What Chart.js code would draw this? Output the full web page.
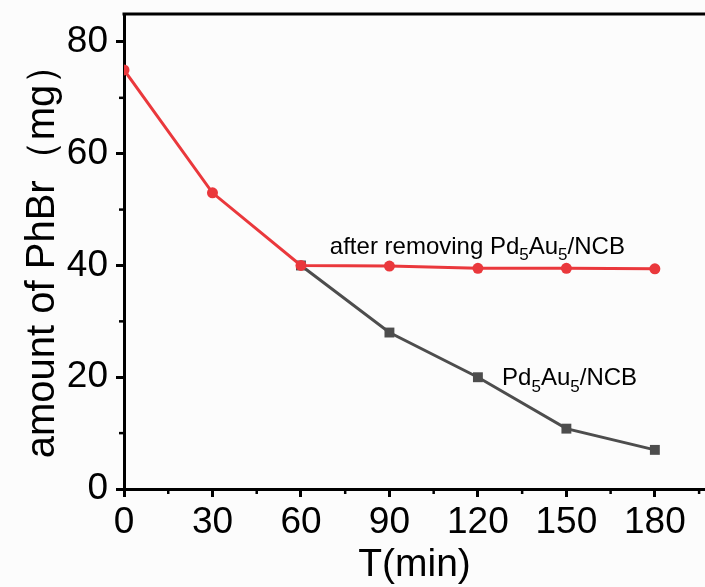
<!DOCTYPE html>
<html>
<head>
<meta charset="utf-8">
<script src="https://cdn.jsdelivr.net/npm/chart.js@4/dist/chart.umd.min.js"></script>
<style>
  html, body { margin: 0; padding: 0; background: #fcfcfc; }
  #wrap { width: 705px; height: 587px; }
</style>
</head>
<body>
<div id="wrap"><canvas id="c" width="705" height="587"></canvas></div>
<script>
const times = [0, 30, 60, 90, 120, 150, 180];
const afterRemoving = [75, 53, 40, 39.9, 39.5, 39.5, 39.4];
const withCatalyst = [null, null, 40, 28, 20, 10.8, 7];
const xTickValues = [0, 30, 60, 90, 120, 150, 180];
const xMinorTicks = [15, 45, 75, 105, 135, 165, 195];
const yTickValues = [0, 20, 40, 60, 80];
const yMinorTicks = [10, 30, 50, 70];

const RED = 'rgb(234,56,60)';
const GRAY = 'rgb(77,77,77)';
const FONT = "'Liberation Sans', Arial, sans-serif";

function drawSubText(ctx, pieces, x, y, size) {
  let cx = x;
  for (const [t, sub] of pieces) {
    ctx.font = (sub ? Math.round(size * 0.7) : size) + 'px ' + FONT;
    ctx.fillText(t, cx, sub ? y + size * 0.28 : y);
    cx += ctx.measureText(t).width;
  }
}

const extras = {
  id: 'extras',
  afterDraw(chart) {
    const ctx = chart.ctx;
    const xs = chart.scales.x, ys = chart.scales.y;
    const area = chart.chartArea;
    ctx.save();
    ctx.strokeStyle = '#000';
    ctx.lineWidth = 3;
    ctx.beginPath();
    ctx.moveTo(area.left - 1.5, area.top);
    ctx.lineTo(area.right, area.top);
    ctx.stroke();
    ctx.lineWidth = 2.5;
    for (const v of xMinorTicks) {
      const px = xs.getPixelForValue(v);
      if (px > area.right) continue;
      ctx.beginPath();
      ctx.moveTo(px, area.bottom);
      ctx.lineTo(px, area.bottom + 5);
      ctx.stroke();
    }
    for (const v of yMinorTicks) {
      const py = ys.getPixelForValue(v);
      ctx.beginPath();
      ctx.moveTo(area.left, py);
      ctx.lineTo(area.left - 5, py);
      ctx.stroke();
    }
    ctx.fillStyle = '#000';
    ctx.textBaseline = 'alphabetic';
    ctx.textAlign = 'left';
    drawSubText(ctx, [["after removing Pd", false], ["5", true], ["Au", false], ["5", true], ["/NCB", false]],
      xs.getPixelForValue(69.8), ys.getPixelForValue(42.1), 24);
    drawSubText(ctx, [["Pd", false], ["5", true], ["Au", false], ["5", true], ["/NCB", false]],
      xs.getPixelForValue(128.2), ys.getPixelForValue(18.6), 24);
    ctx.restore();
  }
};

new Chart(document.getElementById('c'), {
  type: 'line',
  data: {
    labels: times,
    datasets: [
      {
        label: 'after removing Pd5Au5/NCB',
        data: times.map((t, i) => ({ x: t, y: afterRemoving[i] })),
        borderColor: RED,
        backgroundColor: RED,
        borderWidth: 3,
        pointStyle: 'circle',
        pointRadius: 5.5,
        pointBorderWidth: 0,
        tension: 0
      },
      {
        label: 'Pd5Au5/NCB',
        data: times.map((t, i) => ({ x: t, y: withCatalyst[i] })),
        borderColor: GRAY,
        backgroundColor: GRAY,
        borderWidth: 3,
        pointStyle: 'rect',
        pointRadius: 7,
        pointBorderWidth: 0,
        tension: 0
      }
    ]
  },
  options: {
    responsive: false,
    animation: false,
    events: [],
    layout: { autoPadding: false, padding: { top: 14, right: 0, left: 0, bottom: 0 } },
    plugins: { legend: { display: false }, tooltip: { enabled: false } },
    scales: {
      x: {
        type: 'linear',
        min: 0,
        max: 197,
        afterFit: (s) => { s.height = 98; s.paddingLeft = 0; s.paddingRight = 0; },
        afterBuildTicks: (s) => { s.ticks = xTickValues.map(v => ({ value: v })); },
        ticks: {
          includeBounds: false,
          color: '#000',
          padding: 4,
          maxRotation: 0,
          autoSkip: false,
          font: { family: FONT, size: 37 }
        },
        grid: {
          drawOnChartArea: false,
          drawTicks: true,
          tickLength: 8,
          tickWidth: 3,
          tickColor: '#000'
        },
        border: { display: true, color: '#000', width: 3 },
        title: {
          display: true,
          text: 'T(min)',
          color: '#000',
          font: { family: FONT, size: 39 },
          padding: { top: 0, bottom: -2 }
        }
      },
      y: {
        type: 'linear',
        min: 0,
        max: 85,
        afterFit: (s) => { s.width = 124; s.paddingTop = 0; s.paddingBottom = 0; },
        afterBuildTicks: (s) => { s.ticks = yTickValues.map(v => ({ value: v })); },
        ticks: {
          includeBounds: false,
          color: '#000',
          padding: 8,
          autoSkip: false,
          font: { family: FONT, size: 37 }
        },
        grid: {
          drawOnChartArea: false,
          drawTicks: true,
          tickLength: 8,
          tickWidth: 3,
          tickColor: '#000'
        },
        border: { display: true, color: '#000', width: 3 },
        title: {
          display: true,
          text: 'amount of PhBr（mg）',
          color: '#000',
          font: { family: FONT, size: 40 },
          padding: { top: 19, bottom: 0 }
        }
      }
    }
  },
  plugins: [extras]
});
</script>
</body>
</html>
